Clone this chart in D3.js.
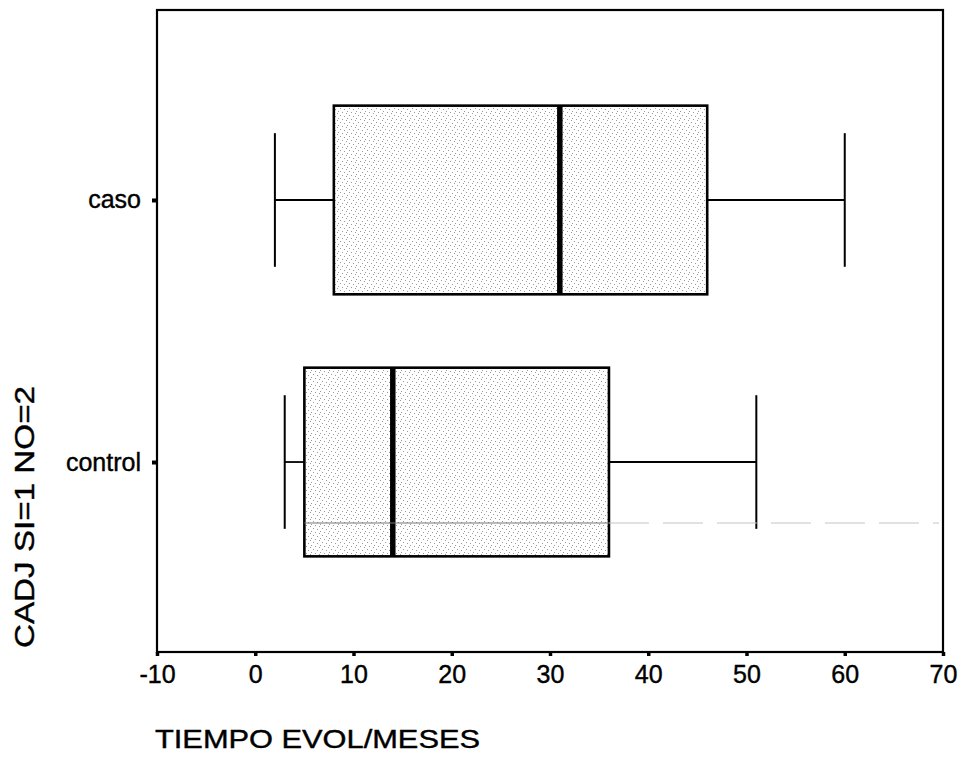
<!DOCTYPE html>
<html>
<head>
<meta charset="utf-8">
<script src="https://cdn.jsdelivr.net/npm/d3@7"></script>
<style>
  html, body { margin: 0; padding: 0; background: #fff; }
  svg { display: block; }
</style>
</head>
<body>
<div id="chart"></div>
<script>
(function () {
  "use strict";

  // ── Data ──────────────────────────────────────────────────────────────────
  const groups  = ["caso", "control"];
  const mins    = [2, 3];
  const q1s     = [8, 5];
  const medians = [31, 14];
  const q3s     = [46, 36];
  const maxs    = [60, 51];
  const xTicks  = [-10, 0, 10, 20, 30, 40, 50, 60, 70];

  const W = 962, H = 768;
  const frame = { left: 157, top: 10, right: 943, bottom: 652 };
  const FONT = "'Liberation Sans', Arial, sans-serif";

  const svg = d3.select("#chart").append("svg")
    .attr("width", W).attr("height", H);

  // ── Stipple pattern (box fill) ────────────────────────────────────────────
  const defs = svg.append("defs");
  const pat = defs.append("pattern").attr("id", "stipple")
    .attr("patternUnits", "userSpaceOnUse").attr("width", 9).attr("height", 7);
  pat.append("rect").attr("width", 9).attr("height", 7).attr("fill", "#fff");
  [[0, 0], [4, 1], [7, 3], [2, 4], [5, 6]].forEach(([x, y]) =>
    pat.append("rect").attr("x", x).attr("y", y).attr("width", 1).attr("height", 1)
      .attr("fill", "#9a9a9a"));

  // ── Scales ────────────────────────────────────────────────────────────────
  const x = d3.scaleLinear().domain([-10, 70]).range([frame.left, frame.right]);
  const y = d3.scalePoint().domain(groups).range([frame.top, frame.bottom]).padding(0.725);
  const step = y.step();
  const boxH = step * 0.72, capH = step * 0.51;

  // ── Frame ─────────────────────────────────────────────────────────────────
  svg.append("rect")
    .attr("x", frame.left).attr("y", frame.top)
    .attr("width", frame.right - frame.left).attr("height", frame.bottom - frame.top)
    .attr("fill", "none").attr("stroke", "#000").attr("stroke-width", 2.2);

  // ── X axis ────────────────────────────────────────────────────────────────
  const xAxis = svg.append("g")
    .attr("transform", `translate(0,${frame.bottom})`)
    .call(d3.axisBottom(x).tickValues(xTicks).tickSize(4).tickPadding(9)
      .tickFormat((d) => String(d)));
  xAxis.select(".domain").remove();
  xAxis.selectAll(".tick line").attr("stroke", "#000").attr("stroke-width", 3.5);
  xAxis.selectAll(".tick text")
    .attr("font-family", FONT).attr("font-size", 25).attr("fill", "#000")
    .attr("stroke", "#000").attr("stroke-width", 0.4);

  // ── Y axis ────────────────────────────────────────────────────────────────
  const yAxis = svg.append("g")
    .attr("transform", `translate(${frame.left},0)`)
    .call(d3.axisLeft(y).tickSize(5).tickPadding(11));
  yAxis.select(".domain").remove();
  yAxis.selectAll(".tick line").attr("stroke", "#000").attr("stroke-width", 4);
  yAxis.selectAll(".tick text")
    .attr("font-family", FONT).attr("font-size", 25).attr("fill", "#000")
    .attr("stroke", "#000").attr("stroke-width", 0.4);

  // ── Boxplots ──────────────────────────────────────────────────────────────
  const boxes = svg.append("g");
  groups.forEach((g, i) => {
    const cy = y(g);
    const bg = boxes.append("g");
    // whisker lines
    bg.append("line").attr("x1", x(mins[i])).attr("x2", x(q1s[i]))
      .attr("y1", cy).attr("y2", cy).attr("stroke", "#000").attr("stroke-width", 1.8);
    bg.append("line").attr("x1", x(q3s[i])).attr("x2", x(maxs[i]))
      .attr("y1", cy).attr("y2", cy).attr("stroke", "#000").attr("stroke-width", 1.8);
    // caps
    [mins[i], maxs[i]].forEach((v) =>
      bg.append("line").attr("x1", x(v)).attr("x2", x(v))
        .attr("y1", cy - capH / 2).attr("y2", cy + capH / 2)
        .attr("stroke", "#000").attr("stroke-width", 2));
    // box
    bg.append("rect")
      .attr("x", x(q1s[i])).attr("y", cy - boxH / 2)
      .attr("width", x(q3s[i]) - x(q1s[i])).attr("height", boxH)
      .attr("fill", "url(#stipple)").attr("stroke", "#000").attr("stroke-width", 2.6);
    // median
    bg.append("line").attr("x1", x(medians[i])).attr("x2", x(medians[i]))
      .attr("y1", cy - boxH / 2).attr("y2", cy + boxH / 2)
      .attr("stroke", "#000").attr("stroke-width", 5.5);
  });

  // faint scan line across the control box
  const yc = y("control") + 61;
  svg.append("line").attr("x1", x(q1s[1])).attr("x2", x(q3s[1]))
    .attr("y1", yc).attr("y2", yc).attr("stroke", "#777").attr("stroke-width", 1.2);
  svg.append("line").attr("x1", x(q3s[1])).attr("x2", frame.right - 4)
    .attr("y1", yc).attr("y2", yc).attr("stroke", "#c4c4c4").attr("stroke-width", 1)
    .attr("stroke-dasharray", "40,14");

  // ── Axis titles ───────────────────────────────────────────────────────────
  svg.append("text")
    .attr("x", 155).attr("y", 748)
    .attr("font-family", FONT).attr("font-size", 25).attr("fill", "#000")
    .attr("stroke", "#000").attr("stroke-width", 0.4)
    .attr("textLength", 325).attr("lengthAdjust", "spacingAndGlyphs")
    .text("TIEMPO EVOL/MESES");

  svg.append("text")
    .attr("transform", "translate(34,648) rotate(-90)")
    .attr("font-family", FONT).attr("font-size", 28).attr("fill", "#000")
    .attr("stroke", "#000").attr("stroke-width", 0.4)
    .attr("textLength", 262).attr("lengthAdjust", "spacingAndGlyphs")
    .text("CADJ SI=1 NO=2");
})();
</script>
</body>
</html>
